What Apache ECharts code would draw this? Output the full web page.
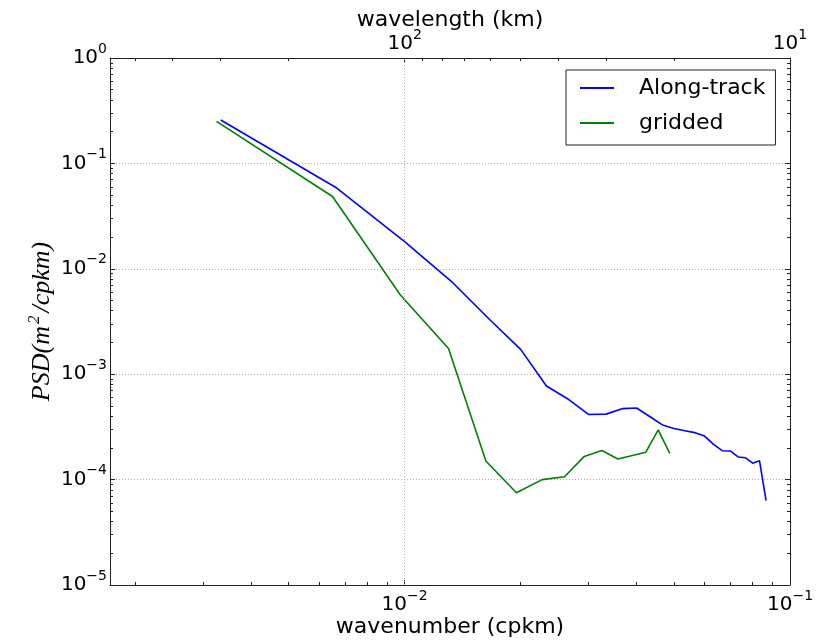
<!DOCTYPE html>
<html><head><meta charset="utf-8">
<script src="https://cdn.jsdelivr.net/npm/echarts@6/dist/echarts.min.js"></script>
<style>html,body{margin:0;padding:0;background:#fff;}#c{width:833px;height:642px;}</style>
</head><body><div id="c"></div>
<script>
// ---- data ----
const alongK = [0.003333,0.006667,0.01,0.013333,0.016667,0.02,0.023333,0.026667,0.03,0.033333,0.036667,0.04,0.043333,0.046667,0.05,0.053333,0.056667,0.06,0.063333,0.066667,0.07,0.073333,0.076667,0.08,0.083333,0.086667];
const alongPSD = [0.258,0.0584,0.0181,0.00738,0.00327,0.00172,0.000773,0.000575,0.000415,0.000418,0.000471,0.000478,0.000395,0.00033,0.000305,0.000291,0.000279,0.000259,0.000216,0.000188,0.000187,0.000164,0.000161,0.000143,0.000151,0.0000633];
const griddedK = [0.00325,0.0065,0.00975,0.013,0.01625,0.0195,0.02275,0.026,0.02925,0.0325,0.03575,0.039,0.04225,0.0455,0.04875];
const griddedPSD = [0.2507,0.0485,0.00564,0.00175,0.000150,0.0000751,0.0001,0.0001065,0.000166,0.000189,0.000157,0.000169,0.000182,0.000296,0.000177];

// ---- ticks ----
const X_MIN = 0.00172, X_MAX = 0.1;
const Y_MIN = 1e-5, Y_MAX = 1;
const xMajorTicks = [0.01, 0.1];
const xMinorTicks = [0.002,0.003,0.004,0.005,0.006,0.007,0.008,0.009,0.02,0.03,0.04,0.05,0.06,0.07,0.08,0.09];
const topMajorKm = [100, 10];
const topMinorKm = [500,400,300,200,90,80,70,60,50,40,30,20];
const yMajorTicks = [1e-5,1e-4,1e-3,1e-2,1e-1,1];
const yMinorMult = [2,3,4,5,6,7,8,9];
const yMinorTicks = [];
yMajorTicks.slice(0,-1).forEach(d => yMinorMult.forEach(m => yMinorTicks.push(+(d*m).toPrecision(3))));
const gridX = [0.01];

const FONT = 'DejaVu Sans';
const rich = {
  b:{fontSize:20,lineHeight:32,fontFamily:FONT,color:'#000'},
  e:{fontSize:14,lineHeight:14,verticalAlign:'top',fontFamily:FONT,color:'#000'}
};
function expLabel(p){ return '{b|10}{e|' + (p<0 ? '\u2212' + (-p) : p) + '}'; }
function pow10Label(v){ return expLabel(Math.round(Math.log10(v))); }
function kmLabel(v){ return expLabel(Math.round(-Math.log10(v))); }

const hidden = {splitLine:{show:false},axisLine:{show:false},axisTick:{show:false},axisLabel:{show:false},minorTick:{show:false},minorSplitLine:{show:false}};
const lineCol = '#222';
const gridStyle = {type:[1,2],color:'#b0b0b0',width:1};
function ax(base, extra){ return Object.assign({}, hidden, base, extra); }
const xb = {type:'log',logBase:10,min:X_MIN,max:X_MAX,gridIndex:0};
const yb = {type:'log',logBase:10,min:Y_MIN,max:Y_MAX,gridIndex:0};

const option = {
  animation:false,
  backgroundColor:'#fff',
  grid:{left:110,right:43,top:58,bottom:57,containLabel:false,outerBoundsMode:'none'},
  legend:{
    data:['Along-track','gridded'], orient:'vertical', left:566, top:70,
    padding:[7,10,11,14], itemWidth:34, itemHeight:2, itemGap:13, icon:'rect',
    borderColor:'#222', borderWidth:1, borderRadius:0, backgroundColor:'#fff',
    textStyle:{fontFamily:FONT,fontSize:22,color:'#000',padding:[0,0,0,20]}
  },
  xAxis:[
    ax(xb,{position:'bottom',
      axisLine:{show:true,lineStyle:{color:lineCol,width:1}},
      axisTick:{show:true,inside:true,length:5,customValues:xMajorTicks,lineStyle:{color:lineCol}},
      axisLabel:{show:true,customValues:xMajorTicks,formatter:pow10Label,rich:rich,margin:4},
      name:'wavenumber (cpkm)',nameLocation:'middle',nameGap:31,nameMoveOverlap:false,
      nameTextStyle:{fontFamily:FONT,fontSize:22,color:'#000'}}),
    ax(xb,{position:'bottom',
      axisTick:{show:true,inside:true,length:3,customValues:xMinorTicks,lineStyle:{color:lineCol}}}),
    ax(xb,{position:'top',
      axisLine:{show:true,lineStyle:{color:lineCol,width:1}},
      axisTick:{show:true,inside:true,length:5,customValues:topMajorKm.map(k=>1/k),lineStyle:{color:lineCol}},
      axisLabel:{show:true,customValues:topMajorKm.map(k=>1/k),formatter:kmLabel,rich:rich,margin:-2},
      name:'wavelength (km)',nameLocation:'middle',nameGap:27,nameMoveOverlap:false,
      nameTextStyle:{fontFamily:FONT,fontSize:22,color:'#000'}}),
    ax(xb,{position:'top',
      axisTick:{show:true,inside:true,length:3,customValues:topMinorKm.map(k=>1/k),lineStyle:{color:lineCol}}})
  ],
  yAxis:[
    ax(yb,{position:'left',
      axisLine:{show:true,lineStyle:{color:lineCol,width:1}},
      axisTick:{show:true,inside:true,length:5,customValues:yMajorTicks,lineStyle:{color:lineCol}},
      axisLabel:{show:true,customValues:yMajorTicks,formatter:pow10Label,rich:rich,margin:3},
      splitLine:{show:true,lineStyle:gridStyle},
      name:'{a|PSD(m}{s|2}{a|/cpkm)}',nameLocation:'middle',nameGap:52,nameMoveOverlap:false,
      nameTextStyle:{fontFamily:'Liberation Serif',fontStyle:'italic',fontSize:26,color:'#000',
        rich:{a:{fontFamily:'Liberation Serif',fontStyle:'italic',fontSize:26,color:'#000',lineHeight:32},
              s:{fontFamily:'Liberation Serif',fontStyle:'italic',fontSize:17,color:'#000',lineHeight:17,verticalAlign:'top',padding:[0,3,0,2]}}}}),
    ax(yb,{position:'left',
      axisTick:{show:true,inside:true,length:3,customValues:yMinorTicks,lineStyle:{color:lineCol}}}),
    ax(yb,{position:'right',
      axisLine:{show:true,lineStyle:{color:lineCol,width:1}},
      axisTick:{show:true,inside:true,length:5,customValues:yMajorTicks,lineStyle:{color:lineCol}}}),
    ax(yb,{position:'right',
      axisTick:{show:true,inside:true,length:3,customValues:yMinorTicks,lineStyle:{color:lineCol}}})
  ],
  series:[
    {name:'Along-track',type:'line',xAxisIndex:0,yAxisIndex:0,symbol:'none',
     data:alongK.map((k,i)=>[k,alongPSD[i]]),
     lineStyle:{color:'#0000ff',width:1.6},itemStyle:{color:'#0000ff'},z:3,
     markLine:{silent:true,symbol:['none','none'],label:{show:false},
       lineStyle:gridStyle,
       data:gridX.map(v=>({xAxis:v}))}},
    {name:'gridded',type:'line',xAxisIndex:0,yAxisIndex:0,symbol:'none',
     data:griddedK.map((k,i)=>[k,griddedPSD[i]]),
     lineStyle:{color:'#008000',width:1.6},itemStyle:{color:'#008000'},z:3}
  ]
};
const chart = echarts.init(document.getElementById('c'),null,{renderer:'canvas'});
chart.setOption(option);
</script>
</body></html>
